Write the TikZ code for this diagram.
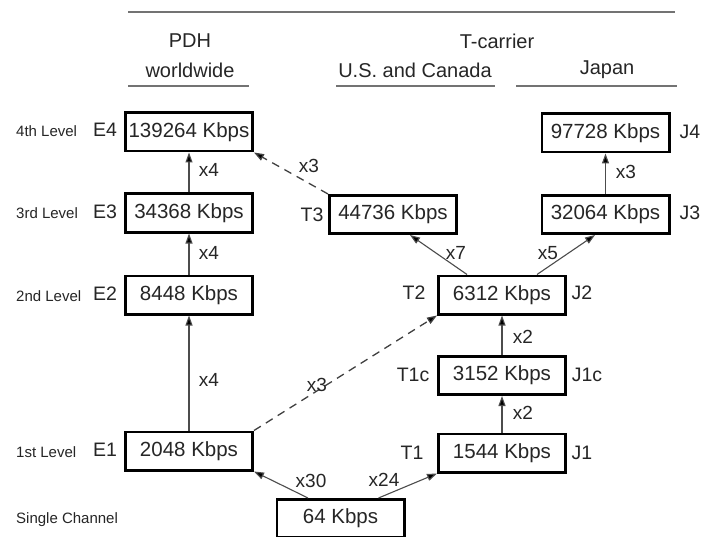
\documentclass[tikz,border=0pt]{standalone}
\usepackage{fontspec}
\setmainfont{Liberation Sans}
\usetikzlibrary{arrows.meta}
\begin{document}
\begin{tikzpicture}[x=1pt,y=-1pt,
 box/.style={draw, line width=2.8pt, minimum width=127.2pt, minimum height=38.2pt, inner sep=0pt, text=black!85, font=\fontsize{20.5}{24}\selectfont},
 lbl/.style={font=\fontsize{19.5}{23}\selectfont, inner sep=0pt, text=black!85},
 hdr/.style={font=\fontsize{20}{24}\selectfont, inner sep=0pt, text=black!85},
 lvl/.style={font=\fontsize{15}{18}\selectfont, inner sep=0pt, anchor=west, text=black!85},
 mul/.style={font=\fontsize{19}{22}\selectfont, inner sep=0pt, text=black!85},
 arr/.style={draw=black!70, line width=1.1pt, -{Triangle[length=10pt,width=7pt,fill=black]}},
 darr/.style={arr, draw=black!75, line width=1.3pt, dash pattern=on 8pt off 6pt},
 rulel/.style={draw=black!55, line width=1.4pt}]
\useasboundingbox (0,0) rectangle (703,537);
\clip (0,0) rectangle (703,537);
\fill[white] (0,0) rectangle (703,537);

% header
\coordinate (h1) at (128,12); \coordinate (h2) at (675,12);
\draw[rulel] (h1) -- (h2);
\node[hdr] (pdh) at (190,41) {PDH};
\node[hdr] (ww) at (190,70) {worldwide};
\node[hdr] (tc) at (497,41) {T-carrier};
\node[hdr] (us) at (415,70) {U.S. and Canada};
\node[hdr] (jp) at (607,70) {Japan};
\coordinate (u1a) at (128,86); \coordinate (u1b) at (249,86);
\coordinate (u2a) at (336,86); \coordinate (u2b) at (495,86);
\coordinate (u3a) at (516,86); \coordinate (u3b) at (677,86);
\draw[rulel] (u1a) -- (u1b);
\draw[rulel] (u2a) -- (u2b);
\draw[rulel] (u3a) -- (u3b);

% level labels
\node[lvl] (l4) at (16,131) {4th Level};
\node[lvl] (l3) at (16,213) {3rd Level};
\node[lvl] (l2) at (16,296) {2nd Level};
\node[lvl] (l1) at (16,452) {1st Level};
\node[lvl] (l0) at (16,520) {Single Channel};

% boxes
\node[box] (E4) at (189,132) {139264 Kbps};
\node[box] (E3) at (189,213) {34368 Kbps};
\node[box] (E2) at (189,295) {8448 Kbps};
\node[box] (E1) at (189,451) {2048 Kbps};
\node[box] (C) at (340.5,518.5) {64 Kbps};
\node[box] (T1) at (502,453) {1544 Kbps};
\node[box] (T1c) at (502,375.5) {3152 Kbps};
\node[box] (T2) at (502,295) {6312 Kbps};
\node[box] (T3) at (393,214.5) {44736 Kbps};
\node[box] (J3) at (605.5,214.5) {32064 Kbps};
\node[box] (J4) at (605.5,133) {97728 Kbps};

% side labels
\node[lbl] (e4l) at (105,130) {E4};
\node[lbl] (e3l) at (105,212) {E3};
\node[lbl] (e2l) at (105,294) {E2};
\node[lbl] (e1l) at (105,450) {E1};
\node[lbl] (t3l) at (312,215) {T3};
\node[lbl] (t2l) at (414,293) {T2};
\node[lbl] (t1cl) at (413,375) {T1c};
\node[lbl] (t1l) at (412,453) {T1};
\node[lbl] (j2l) at (582,293) {J2};
\node[lbl] (j1cl) at (587,375) {J1c};
\node[lbl] (j1l) at (582,453) {J1};
\node[lbl] (j4l) at (690,132) {J4};
\node[lbl] (j3l) at (690,213) {J3};

% connectors
\draw[arr] (E3) -- (E4);
\draw[arr] (E2) -- (E3);
\draw[arr] (E1) -- (E2);
\draw[arr] ([xshift=-32.5pt]C.north) -- (E1.south east);
\draw[arr] ([xshift=38pt]C.north) -- (T1.south west);
\draw[darr] (E1.north east) -- (T2.south west);
\draw[darr] (T3.north west) -- (E4.south east);
\draw[arr] ([xshift=-35pt]T2.north) -- ([xshift=17pt]T3.south);
\draw[arr] ([xshift=35pt]T2.north) -- ([xshift=-10.5pt]J3.south);
\draw[arr] (J3) -- (J4);
\draw[arr] (T1) -- (T1c);
\draw[arr] (T1c) -- (T2);

% multipliers
\node[mul] (m1) at (209,170) {x4};
\node[mul] (m2) at (209,253) {x4};
\node[mul] (m3) at (209,380) {x4};
\node[mul] (m4) at (309,166) {x3};
\node[mul] (m5) at (317,385) {x3};
\node[mul] (m6) at (311,481) {x30};
\node[mul] (m7) at (384,480) {x24};
\node[mul] (m8) at (523,337) {x2};
\node[mul] (m9) at (523,413) {x2};
\node[mul] (m10) at (456,253) {x7};
\node[mul] (m11) at (548,253) {x5};
\node[mul] (m12) at (626,172) {x3};
\end{tikzpicture}
\end{document}
